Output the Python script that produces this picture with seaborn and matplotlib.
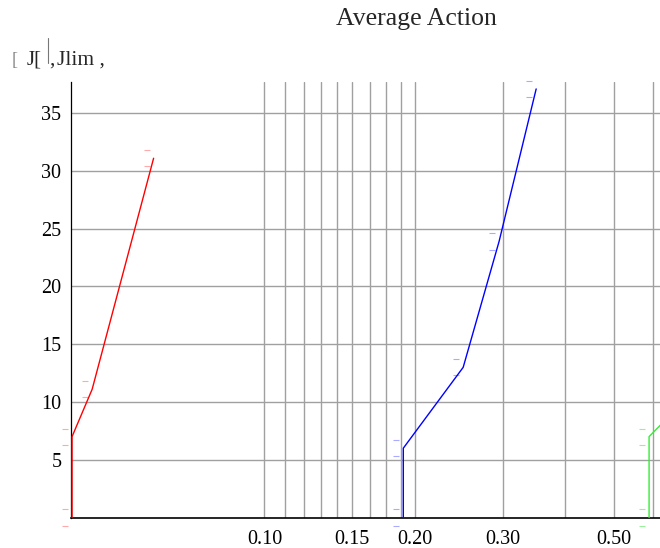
import numpy as np
import pandas as pd
import matplotlib
matplotlib.use("Agg")
import matplotlib.pyplot as plt
import seaborn as sns
from matplotlib.transforms import ScaledTranslation
from matplotlib.lines import Line2D

# ---- data ----
red_x = [0.0412, 0.0412, 0.0452, 0.0600]
red_y = [0.0, 7.0, 11.1, 31.1]
blue_x = [0.1897, 0.1897, 0.250, 0.295, 0.350]
blue_y = [0.0, 6.0, 13.0, 23.9, 37.1]
green_x = [0.589, 0.589, 0.700]
green_y = [0.0, 7.0, 10.3]
err = 0.7

x_major = [0.10, 0.15, 0.20, 0.30, 0.50]
x_major_labels = ["0.10", "0.15", "0.20", "0.30", "0.50"]
x_minor = [0.11, 0.12, 0.13, 0.14, 0.1625, 0.175, 0.1875, 0.40, 0.60]
y_major = [5, 10, 15, 20, 25, 30, 35]
y_minor = [v for v in range(1, 38)]

series = ["red", "blue", "green"]
colors = {"red": "#ff0000", "blue": "#0000ff", "green": "#33ee33"}
light = {"red": "#ffaaaa", "blue": "#aaaaff", "green": "#99f099"}

df = pd.concat([
    pd.DataFrame({"x": red_x, "y": red_y, "s": "red"}),
    pd.DataFrame({"x": blue_x, "y": blue_y, "s": "blue"}),
    pd.DataFrame({"x": green_x, "y": green_y, "s": "green"}),
], ignore_index=True)

sns.set_style("white")
plt.rcParams["font.family"] = ["Liberation Serif", "DejaVu Serif"]

W, H = 660, 548
fig = plt.figure(figsize=(W / 100, H / 100), dpi=100)
ax = fig.add_axes([71 / W, (H - 517.5) / H, (W - 71) / W, (517.5 - 82) / H])
ax.set_xscale("log")
ax.set_xlim(0.0410, 0.6194)
ax.set_ylim(0, 37.7)

sns.lineplot(data=df, x="x", y="y", hue="s", palette=colors,
             estimator=None, sort=False, lw=1.0, legend=False, ax=ax, zorder=3)

# faint error caps, slightly left of each point
off = ScaledTranslation(-7 / 100, 0, fig.dpi_scale_trans)
for s in series:
    d = df[df.s == s]
    for sign in (1, -1):
        ax.plot(d.x, d.y + sign * err, ls="none", marker="_", ms=4, mew=0.8,
                color=light[s], transform=ax.transData + off, clip_on=False, zorder=2)

ax.set_xticks(x_major)
ax.set_xticklabels(x_major_labels)
ax.set_xticks(x_minor, minor=True)
ax.set_xticklabels([], minor=True)
ax.set_yticks(y_major)
ax.set_yticks(y_minor, minor=True)
ax.set_xlabel("")
ax.set_ylabel("")

ax.grid(True, which="both", axis="x", color="#a0a0a0", lw=1.0)
ax.grid(True, which="major", axis="y", color="#a0a0a0", lw=1.0)
ax.set_axisbelow(True)

for sp in ("top", "right"):
    ax.spines[sp].set_visible(False)
ax.spines["left"].set_color("black")
ax.spines["left"].set_linewidth(0.9)
ax.spines["bottom"].set_color("black")
ax.spines["bottom"].set_linewidth(1.2)

ax.tick_params(axis="x", which="major", direction="in", length=6, width=0.9, pad=9,
               labelsize=14.5, colors="black")
ax.tick_params(axis="x", which="minor", direction="in", length=3, width=0.8)
ax.tick_params(axis="y", which="major", direction="in", length=6, width=0.9, pad=7,
               labelsize=14.5, colors="black")
ax.tick_params(axis="y", which="minor", direction="in", length=4, width=0.8)

fig.text(416 / W, 1 - 19 / H, "Average Action", ha="center", va="center", fontsize=18.5)

# garbled axis label at top-left
yb = 1 - 65 / H
fig.text(12 / W, yb, "[", fontsize=13, color="#888888", va="baseline")
fig.text(27 / W, yb, "J[", fontsize=15, va="baseline")
fig.add_artist(Line2D([48 / W, 48 / W], [1 - 38 / H, 1 - 63 / H], color="#777777", lw=0.8))
fig.text(49.5 / W, yb, ",", fontsize=15, va="baseline")
fig.text(57 / W, yb, "Jlim ,", fontsize=15.5, va="baseline")

fig.savefig("out.png", dpi=100)
